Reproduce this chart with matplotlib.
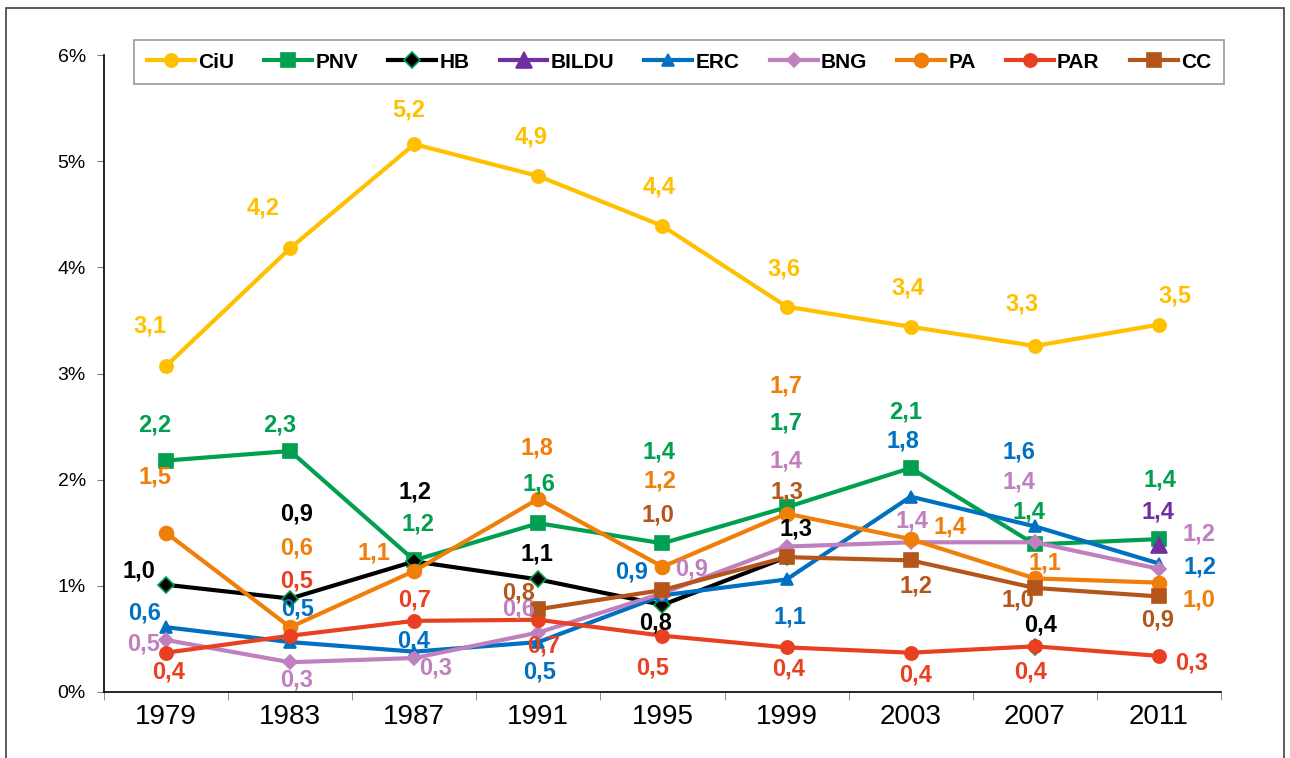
import numpy as np
import matplotlib
matplotlib.use("Agg")
import matplotlib.pyplot as plt
from matplotlib.patches import Rectangle

plt.rcParams['font.family'] = ['Liberation Sans', 'DejaVu Sans']

years = ["1979", "1983", "1987", "1991", "1995", "1999", "2003", "2007", "2011"]

# vote share (%) per party, None where the party did not run
ciu = [3.07, 4.18, 5.16, 4.86, 4.39, 3.63, 3.44, 3.26, 3.46]
pnv = [2.18, 2.27, 1.24, 1.59, 1.40, 1.74, 2.11, 1.39, 1.44]
hb = [1.01, 0.88, 1.23, 1.06, 0.82, 1.27, None, 0.42, None]
bildu = [None, None, None, None, None, None, None, None, 1.38]
erc = [0.61, 0.47, 0.38, 0.47, 0.91, 1.06, 1.84, 1.56, 1.21]
bng = [0.49, 0.28, 0.32, 0.56, 0.93, 1.37, 1.41, 1.41, 1.16]
pa = [1.50, 0.61, 1.14, 1.82, 1.18, 1.68, 1.44, 1.07, 1.03]
par = [0.37, 0.53, 0.67, 0.68, 0.53, 0.42, 0.37, 0.43, 0.34]
cc = [None, None, None, 0.78, 0.96, 1.27, 1.24, 0.98, 0.90]

# label offsets in pixels (dx, dy) for each point
offsets = {
  "CiU": [(-16, 40), (-27, 40), (-6, 34), (-7, 39), (-3, 39), (-3, 38), (-3, 39), (-13, 42), (16, 29)],
  "PNV": [(-11, 36), (-10, 26), (4, 36), (1, 39), (-4, 91), (-1, 84), (-5, 56), (-6, 32), (1, 59)],
  "HB": [(-27, 14), (6, 85), (1, 69), (-1, 25), (-7, -18), (9, 28), None, (6, 22), None],
  "BILDU": [None] * 8 + [(-1, 33)],
  "ERC": [(-21, 14), (7, 33), (-1, 11), (1, -30), (-31, 23), (3, -38), (-8, 56), (-16, 74), (41, -3)],
  "BNG": [(-22, -4), (6, -18), (21, -10), (-20, 24), (29, 24), (-1, 86), (1, 21), (-16, 60), (40, 35)],
  "PA": [(-11, 56), (6, 79), (-40, 18), (-1, 51), (-2, 86), (-1, 128), (39, 12), (10, 15), (40, -17)],
  "PAR": [(3, -19), (6, 55), (0, 21), (5, -26), (-10, -32), (2, -22), (5, -22), (-4, -26), (33, -7)],
  "CC": [None, None, None, (-20, 16), (-5, 75), (0, 65), (5, -26), (-17, -12), (-1, -24)],
}

series = [
  ("CiU", ciu, "#FFC000", "o", "#FFC000", 9.5),
  ("PNV", pnv, "#00A050", "s", "#00A050", 10),
  ("HB", hb, "#000000", "D", "#00A050", 8),
  ("BILDU", bildu, "#7030A0", "^", "#7030A0", 12),
  ("ERC", erc, "#0070C0", "^", "#0070C0", 8.5),
  ("BNG", bng, "#C07FBF", "D", "#C07FBF", 7),
  ("PA", pa, "#F07F09", "o", "#F07F09", 10),
  ("PAR", par, "#E84020", "o", "#E84020", 9.5),
  ("CC", cc, "#B5551A", "s", "#B5551A", 10),
]

fig = plt.figure(figsize=(12.9, 7.58), dpi=100)
ax = fig.add_axes([0.0806, 0.0871, 0.8659, 0.8403])
x = np.arange(len(years))

for name, vals, color, marker, edge, ms in series:
  y = np.array([np.nan if v is None else v for v in vals], dtype=float)
  ax.plot(x, y, color=color, lw=3, marker=marker, ms=ms,
          markerfacecolor=color, markeredgecolor=edge, markeredgewidth=1.2,
          label=name, zorder=3)
  for i, v in enumerate(vals):
    off = offsets[name][i]
    if v is None or off is None:
      continue
    ax.annotate(f"{v:.1f}".replace(".", ","), (i, v), xytext=off,
                textcoords="offset pixels", ha="center", va="center",
                color=color, fontsize=17, fontweight="bold", zorder=5)

ax.set_xlim(-0.5, len(years) - 0.5)
ax.set_ylim(0, 6)
ax.set_yticks(range(7))
ax.set_yticklabels([f"{i}%" for i in range(7)], fontsize=14)
ax.set_xticks(x)
ax.set_xticklabels(years, fontsize=20)
ax.set_xticks(np.arange(-0.5, len(years), 1), minor=True)
ax.tick_params(axis="x", which="major", length=0, pad=9)
ax.tick_params(axis="x", which="minor", length=6, direction="out", color="#808080")
ax.tick_params(axis="y", length=5, direction="out", color="#808080", pad=8)
ax.spines["top"].set_visible(False)
ax.spines["right"].set_visible(False)
for s in ("left", "bottom"):
  ax.spines[s].set_color("#000000")
  ax.spines[s].set_linewidth(1.2)

leg = ax.legend(loc="upper center", bbox_to_anchor=(0.5148, 1.0235), ncol=9,
                frameon=True, fancybox=False, edgecolor="#808080",
                prop={"weight": "bold", "size": 15}, handlelength=2.3,
                handletextpad=0.15, columnspacing=1.45, borderpad=0.6,
                borderaxespad=0)
leg.get_frame().set_linewidth(1.2)

fig.patches.append(Rectangle((0.005, -0.01), 0.99, 1.0, transform=fig.transFigure,
                             fill=False, edgecolor="#404040", lw=1.2))

fig.savefig("out.png", dpi=100)
